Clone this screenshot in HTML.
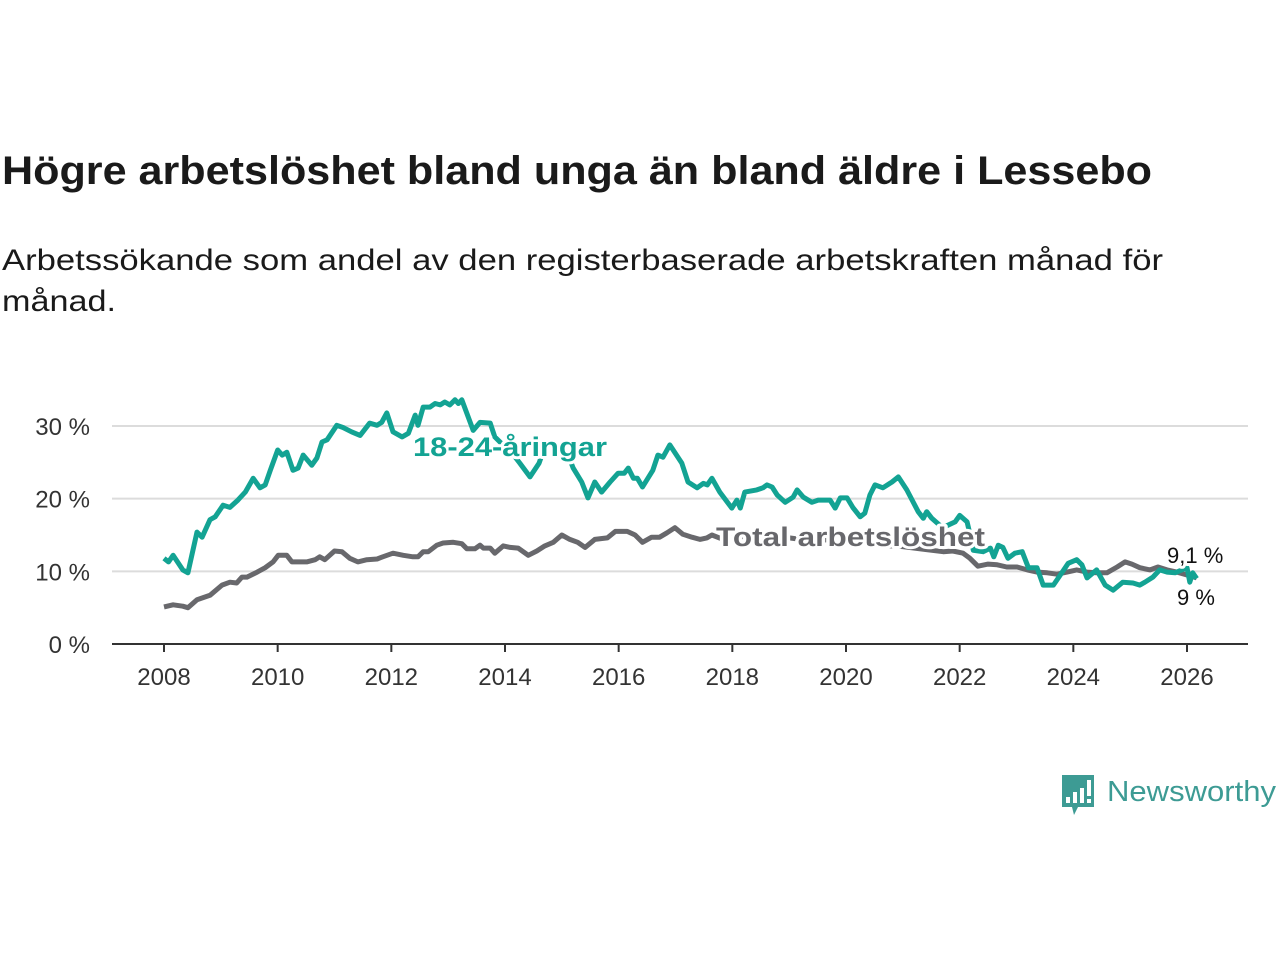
<!DOCTYPE html>
<html><head><meta charset="utf-8"><style>
html,body{margin:0;padding:0;background:#fff;}
svg{display:block;font-family:"Liberation Sans","DejaVu Sans",sans-serif;}
.lbl{paint-order:stroke;stroke:#fff;stroke-width:6px;stroke-linejoin:round;}
</style></head><body>
<svg id="chart" width="1280" height="960" viewBox="0 0 1280 960" xmlns="http://www.w3.org/2000/svg">
<text x="2" y="184" font-size="40" font-weight="bold" fill="#1a1a1a" textLength="1150" lengthAdjust="spacingAndGlyphs">Högre arbetslöshet bland unga än bland äldre i Lessebo</text>
<text x="2" y="270" font-size="30" fill="#1a1a1a" textLength="1161" lengthAdjust="spacingAndGlyphs">Arbetssökande som andel av den registerbaserade arbetskraften månad för</text>
<text x="2" y="311" font-size="30" fill="#1a1a1a" textLength="114" lengthAdjust="spacingAndGlyphs">månad.</text>
<g id="grid"></g>
<g id="series"></g>
<g id="labels"></g>
<g>
<path d="M1062 775 h32 v32 h-16 l-4 8 l-2 -8 h-10 z" fill="#3d9b94"/>
<rect x="1066" y="797" width="4" height="6" fill="#fff"/>
<rect x="1073" y="792" width="4" height="11" fill="#fff"/>
<rect x="1080" y="788" width="4" height="15" fill="#fff"/>
<rect x="1087" y="780" width="4" height="16" fill="#fff"/>
<rect x="1087" y="799" width="4" height="4" fill="#fff"/>
<text x="1107" y="801" font-size="29" fill="#3d9b94" textLength="169" lengthAdjust="spacingAndGlyphs">Newsworthy</text>
</g>
</svg>
<script>
const yTicks = [0, 10, 20, 30];
const yTickLabels = ["0 %", "10 %", "20 %", "30 %"];
const xTicks = [2008, 2010, 2012, 2014, 2016, 2018, 2020, 2022, 2024, 2026];
const youthDates = [2008.0,2008.08,2008.16,2008.33,2008.42,2008.58,2008.67,2008.81,2008.9,2009.04,2009.16,2009.3,2009.43,2009.57,2009.69,2009.78,2009.87,2010.0,2010.08,2010.16,2010.27,2010.36,2010.45,2010.6,2010.69,2010.78,2010.87,2011.04,2011.15,2011.3,2011.45,2011.62,2011.75,2011.83,2011.92,2012.03,2012.19,2012.3,2012.42,2012.47,2012.56,2012.68,2012.77,2012.86,2012.94,2013.03,2013.12,2013.18,2013.24,2013.44,2013.56,2013.74,2013.82,2013.95,2014.1,2014.26,2014.44,2014.6,2014.65,2014.8,2015.0,2015.12,2015.2,2015.35,2015.46,2015.58,2015.7,2015.85,2015.99,2016.1,2016.17,2016.26,2016.33,2016.42,2016.6,2016.69,2016.78,2016.9,2017.11,2017.22,2017.38,2017.49,2017.56,2017.64,2017.78,2017.99,2018.08,2018.14,2018.22,2018.43,2018.54,2018.61,2018.7,2018.79,2018.93,2019.07,2019.14,2019.25,2019.4,2019.51,2019.72,2019.81,2019.9,2020.02,2020.12,2020.25,2020.33,2020.42,2020.51,2020.65,2020.81,2020.92,2021.07,2021.27,2021.36,2021.42,2021.51,2021.7,2021.92,2022.0,2022.13,2022.2,2022.24,2022.41,2022.54,2022.6,2022.68,2022.76,2022.85,2022.97,2023.1,2023.21,2023.36,2023.47,2023.65,2023.77,2023.91,2024.06,2024.15,2024.24,2024.41,2024.56,2024.7,2024.87,2025.05,2025.17,2025.26,2025.4,2025.52,2025.65,2025.79,2026.0,2026.05,2026.1,2026.17];
const youthValues = [11.8,11.3,12.2,10.2,9.8,15.4,14.7,17.1,17.5,19.1,18.8,19.8,20.9,22.8,21.5,21.9,23.9,26.7,26.0,26.4,23.9,24.2,26.0,24.6,25.6,27.8,28.1,30.1,29.8,29.2,28.7,30.4,30.1,30.5,31.8,29.2,28.5,29.0,31.5,30.1,32.6,32.6,33.1,32.9,33.3,32.9,33.6,33.1,33.6,29.4,30.5,30.4,28.5,27.5,26.5,24.9,23.0,24.9,26.0,27.5,27.0,25.8,24.2,22.3,20.1,22.3,20.9,22.3,23.5,23.5,24.2,22.8,22.8,21.6,23.9,26.0,25.7,27.4,24.9,22.3,21.5,22.1,21.9,22.8,20.9,18.7,19.8,18.7,20.9,21.2,21.5,21.9,21.6,20.5,19.5,20.2,21.2,20.2,19.5,19.8,19.8,18.7,20.1,20.1,18.8,17.5,18.0,20.5,21.9,21.5,22.3,23.0,21.2,18.2,17.3,18.2,17.3,16.0,16.8,17.7,16.8,14.5,12.9,12.7,13.2,12.0,13.6,13.3,11.8,12.5,12.7,10.5,10.5,8.1,8.1,9.5,11.1,11.6,10.9,9.1,10.2,8.1,7.4,8.5,8.4,8.1,8.5,9.2,10.2,9.9,9.8,10.5,8.5,9.8,9.0];
const totalDates = [2008.0,2008.16,2008.33,2008.42,2008.58,2008.81,2009.02,2009.16,2009.28,2009.37,2009.46,2009.64,2009.78,2009.92,2010.01,2010.16,2010.25,2010.51,2010.66,2010.74,2010.83,2011.0,2011.13,2011.27,2011.41,2011.57,2011.75,2011.85,2012.03,2012.21,2012.38,2012.47,2012.56,2012.65,2012.8,2012.91,2013.09,2013.24,2013.33,2013.47,2013.56,2013.62,2013.74,2013.82,2013.97,2014.09,2014.23,2014.41,2014.56,2014.7,2014.85,2015.0,2015.14,2015.28,2015.41,2015.58,2015.8,2015.94,2016.15,2016.29,2016.42,2016.58,2016.72,2016.85,2016.99,2017.13,2017.29,2017.43,2017.55,2017.64,2017.8,2018.2,2018.6,2019.0,2019.4,2019.8,2020.2,2020.6,2021.0,2021.4,2021.71,2021.88,2022.06,2022.18,2022.32,2022.5,2022.66,2022.83,2023.01,2023.19,2023.36,2023.54,2023.71,2023.89,2024.06,2024.24,2024.41,2024.59,2024.77,2024.91,2025.03,2025.17,2025.35,2025.49,2025.65,2025.82,2026.0,2026.17];
const totalValues = [5.1,5.4,5.2,5.0,6.1,6.7,8.1,8.5,8.4,9.2,9.2,9.9,10.5,11.3,12.2,12.2,11.3,11.3,11.6,12.0,11.6,12.8,12.7,11.8,11.3,11.6,11.7,12.0,12.5,12.2,12.0,12.0,12.7,12.7,13.6,13.9,14.0,13.8,13.1,13.1,13.6,13.2,13.2,12.5,13.5,13.3,13.2,12.2,12.8,13.5,14.0,15.0,14.4,14.0,13.3,14.4,14.6,15.5,15.5,15.0,14.0,14.7,14.7,15.3,16.0,15.1,14.7,14.4,14.6,15.0,14.5,14.8,15.2,14.6,14.2,14.4,14.0,13.6,13.4,13.0,12.7,12.8,12.5,11.8,10.7,11.0,10.9,10.6,10.6,10.2,9.9,9.8,9.6,9.9,10.2,9.9,9.8,9.8,10.6,11.3,11.0,10.5,10.2,10.6,10.2,9.9,9.5,9.1];
const endLabels = ["9,1 %", "9 %"];

const NS = "http://www.w3.org/2000/svg";
const X0 = 164, X1 = 1187, Y0 = 644, Y30 = 426;
function xScale(t){ return X0 + (t - 2008) * (X1 - X0) / 18; }
function yScale(v){ return Y0 - v * (Y0 - Y30) / 30; }
function mk(tag, attrs, parent){ const e = document.createElementNS(NS, tag); for (const k in attrs) e.setAttribute(k, attrs[k]); parent.appendChild(e); return e; }

const grid = document.getElementById('grid');
yTicks.forEach((v, i) => {
  if (v > 0) {
    const g = mk('line', {x1:112, x2:1248, y1:yScale(v), y2:yScale(v), stroke:'#dcdcdc', 'stroke-width':2}, grid);
    
    
  }
  const t = mk('text', {x:90, y:yScale(v)+9, 'text-anchor':'end', 'font-size':24, fill:'#333'}, grid);
  t.textContent = yTickLabels[i];
  
  
});
const axis = mk('line', {x1:112, x2:1248, y1:Y0, y2:Y0, stroke:'#333', 'stroke-width':2}, grid);


xTicks.forEach(yr => {
  const tk = mk('line', {x1:xScale(yr), x2:xScale(yr), y1:Y0, y2:Y0+8, stroke:'#333', 'stroke-width':2}, grid);
  
  
  const t = mk('text', {x:xScale(yr), y:685, 'text-anchor':'middle', 'font-size':24, fill:'#333'}, grid);
  t.textContent = yr;
  
  
});

const series = document.getElementById('series');
function pathFor(ds, vs){ return ds.map((d, i) => (i ? 'L' : 'M') + xScale(d).toFixed(1) + ' ' + yScale(vs[i]).toFixed(1)).join(' '); }
const gl = mk('path', {d:pathFor(totalDates, totalValues), fill:'none', stroke:'#68686c', 'stroke-width':5, 'stroke-linejoin':'round'}, series);


const yl = mk('path', {d:pathFor(youthDates, youthValues), fill:'none', stroke:'#13a393', 'stroke-width':5, 'stroke-linejoin':'round'}, series);



const labels = document.getElementById('labels');
const l1 = mk('text', {x:413, y:456, 'font-size':27, 'font-weight':'bold', fill:'#13a393', class:'lbl', textLength:194, lengthAdjust:'spacingAndGlyphs'}, labels);
l1.textContent = '18-24-åringar';


const l2 = mk('text', {x:716, y:546, 'font-size':27, 'font-weight':'bold', fill:'#68686c', class:'lbl', textLength:269, lengthAdjust:'spacingAndGlyphs'}, labels);
l2.textContent = 'Total arbetslöshet';


const e1 = mk('text', {x:1167, y:563, 'font-size':22, fill:'#111', class:'lbl'}, labels);
e1.textContent = endLabels[0];


const e2 = mk('text', {x:1177, y:605, 'font-size':22, fill:'#111', class:'lbl'}, labels);
e2.textContent = endLabels[1];


</script>
</body></html>
